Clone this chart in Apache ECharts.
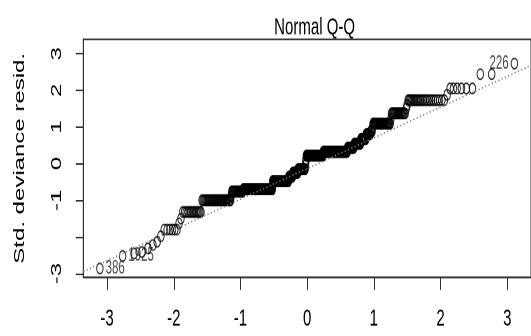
<!DOCTYPE html>
<html>
<head>
<meta charset="utf-8">
<script src="https://cdn.jsdelivr.net/npm/echarts@6/dist/echarts.min.js"></script>
<style>
  html, body { margin: 0; padding: 0; background: #fff; overflow: hidden; width: 531px; height: 336px; }
  /* the plot is laid out on a 531x210 surface and stretched vertically */
  #chart { width: 531px; height: 210px; transform: scale(1, 1.6); transform-origin: 0 0; }
</style>
</head>
<body>
<div id="chart"></div>
<script>
// Sorted standardized deviance residuals, stored as runs of equal values
const residValues = [-2.86, -2.52, -2.45, -2.41, -2.31, -2.22, -2.13, -1.98, -1.80, -1.63,
                     -1.50, -1.32, -1.00, -0.88, -0.76, -0.70, -0.48, -0.36, -0.25, -0.15,
                     -0.05, 0.05, 0.12, 0.22, 0.32, 0.43, 0.54, 0.67, 0.80, 0.88,
                     1.00, 1.09, 1.22, 1.37, 1.50, 1.60, 1.73, 1.88, 2.05, 2.44, 2.73];
const residCounts = [1, 1, 1, 1, 1, 1, 1, 1, 6, 1,
                     1, 14, 37, 1, 21, 71, 47, 12, 17, 23,
                     1, 1, 1, 53, 70, 17, 16, 12, 9, 4,
                     1, 30, 1, 18, 1, 1, 25, 1, 6, 2, 1];
// Observations flagged with their row names (rank in the sorted sample)
const pointIds = ['386', '1925', '226'];
const pointRanks = [1, 2, 530];
// Axis ticks
const xTicks = [-3, -2, -1, 0, 1, 2, 3];
const yTicks = [-3, -2, -1, 0, 1, 2, 3];
const yTickLabels = [-3, -1, 0, 1, 2, 3];

// Inverse of the standard normal CDF (Acklam)
function qnorm(p) {
  const a = [-3.969683028665376e+01, 2.209460984245205e+02, -2.759285104469687e+02, 1.383577518672690e+02, -3.066479806614716e+01, 2.506628277459239e+00];
  const b = [-5.447609879822406e+01, 1.615858368580409e+02, -1.556989798598866e+02, 6.680131188771972e+01, -1.328068155288572e+01];
  const c = [-7.784894002430293e-03, -3.223964580411365e-01, -2.400758277161838e+00, -2.549732539343734e+00, 4.374664141464968e+00, 2.938163982698783e+00];
  const d = [7.784695709041462e-03, 3.224671290700398e-01, 2.445134137142996e+00, 3.754408661907416e+00];
  const pl = 0.02425, ph = 1 - pl;
  let q, r;
  if (p < pl) {
    q = Math.sqrt(-2 * Math.log(p));
    return (((((c[0]*q+c[1])*q+c[2])*q+c[3])*q+c[4])*q+c[5]) / ((((d[0]*q+d[1])*q+d[2])*q+d[3])*q+1);
  }
  if (p > ph) {
    q = Math.sqrt(-2 * Math.log(1 - p));
    return -(((((c[0]*q+c[1])*q+c[2])*q+c[3])*q+c[4])*q+c[5]) / ((((d[0]*q+d[1])*q+d[2])*q+d[3])*q+1);
  }
  q = p - 0.5; r = q * q;
  return (((((a[0]*r+a[1])*r+a[2])*r+a[3])*r+a[4])*r+a[5])*q / (((((b[0]*r+b[1])*r+b[2])*r+b[3])*r+b[4])*r+1);
}

// expand the runs into the sorted sample
const sample = [];
residValues.forEach((v, k) => { for (let j = 0; j < residCounts[k]; j++) sample.push(v); });
const n = sample.length;

// theoretical quantiles at ppoints(n)
const theo = sample.map((_, i) => qnorm((i + 0.5) / n));

// quantile type 7
function quantile(s, p) {
  const h = (s.length - 1) * p, lo = Math.floor(h);
  return s[lo] + (h - lo) * ((s[lo + 1] !== undefined ? s[lo + 1] : s[lo]) - s[lo]);
}
// reference line through the quartiles
const yq = [quantile(sample, 0.25), quantile(sample, 0.75)];
const xq = [qnorm(0.25), qnorm(0.75)];
const slope = (yq[1] - yq[0]) / (xq[1] - xq[0]);
const intercept = yq[0] - slope * xq[0];

// plot limits: room above the top for labels, then a 4% margin
const xr = [theo[0], theo[n - 1]];
const xPad = (xr[1] - xr[0]) * 0.04;
const xMin = xr[0] - xPad, xMax = xr[1] + xPad;
const yLo = sample[0], yHi0 = sample[n - 1];
const yHi = yHi0 + (yHi0 - yLo) * 0.075;
const yPad = (yHi - yLo) * 0.04;
const yMin = yLo - yPad, yMax = yHi + yPad;

const meanX = 0;
const points = sample.map((v, i) => {
  const k = pointRanks.indexOf(i + 1);
  if (k < 0) return [theo[i], v];
  return {
    value: [theo[i], v],
    label: {
      show: true,
      formatter: pointIds[k],
      position: theo[i] < meanX ? 'right' : 'left',
      distance: 2,
      fontFamily: 'Liberation Sans',
      fontSize: 11.5,
      color: '#1a1a1a'
    }
  };
});

const font = 'Liberation Sans';
const chart = echarts.init(document.getElementById('chart'), null, { renderer: 'canvas', devicePixelRatio: 2 });
chart.setOption({
  animation: false,
  backgroundColor: '#fff',
  title: {
    text: 'Normal Q-Q',
    left: 309.6,
    top: 5,
    textAlign: 'center',
    textStyle: { fontFamily: font, fontSize: 15, lineHeight: 15, fontWeight: 'normal', color: '#000' }
  },
  grid: {
    left: 83.3, right: -4.9, top: 24.6, bottom: 36.7,
    show: true, borderColor: '#333', borderWidth: 1, backgroundColor: 'transparent'
  },
  xAxis: {
    type: 'value', min: xMin, max: xMax,
    axisLine: { show: true, onZero: false, lineStyle: { color: '#333', width: 1 } },
    axisTick: { show: true, customValues: xTicks, length: 8, lineStyle: { color: '#333', width: 1 } },
    axisLabel: {
      customValues: xTicks, margin: 18.5,
      fontFamily: font, fontSize: 15, lineHeight: 15, color: '#000',
      formatter: v => String(v)
    },
    splitLine: { show: false }
  },
  yAxis: {
    type: 'value', min: yMin, max: yMax,
    name: 'Std. deviance resid.',
    nameLocation: 'middle',
    nameGap: 56,
    nameTextStyle: { fontFamily: font, fontSize: 15, lineHeight: 15, color: '#000' },
    axisLine: { show: true, onZero: false, lineStyle: { color: '#333', width: 1 } },
    axisTick: { show: true, customValues: yTicks, length: 7.5, lineStyle: { color: '#333', width: 1 } },
    axisLabel: {
      customValues: yTickLabels, rotate: 90, margin: 19,
      fontFamily: font, fontSize: 15, lineHeight: 15, color: '#000',
      formatter: v => String(v)
    },
    splitLine: { show: false }
  },
  series: [
    {
      type: 'scatter',
      data: points,
      symbol: 'circle',
      symbolSize: 6.5,
      itemStyle: { color: 'rgba(0,0,0,0)', borderColor: '#000', borderWidth: 1 },
      emphasis: { disabled: true },
      z: 2
    },
    {
      type: 'line',
      data: [[xMin, intercept + slope * xMin], [xMax, intercept + slope * xMax]],
      symbol: 'none',
      lineStyle: { color: '#7f7f7f', width: 1, type: [1.2, 2.2] },
      clip: true,
      z: 3
    }
  ]
});
</script>
</body>
</html>
